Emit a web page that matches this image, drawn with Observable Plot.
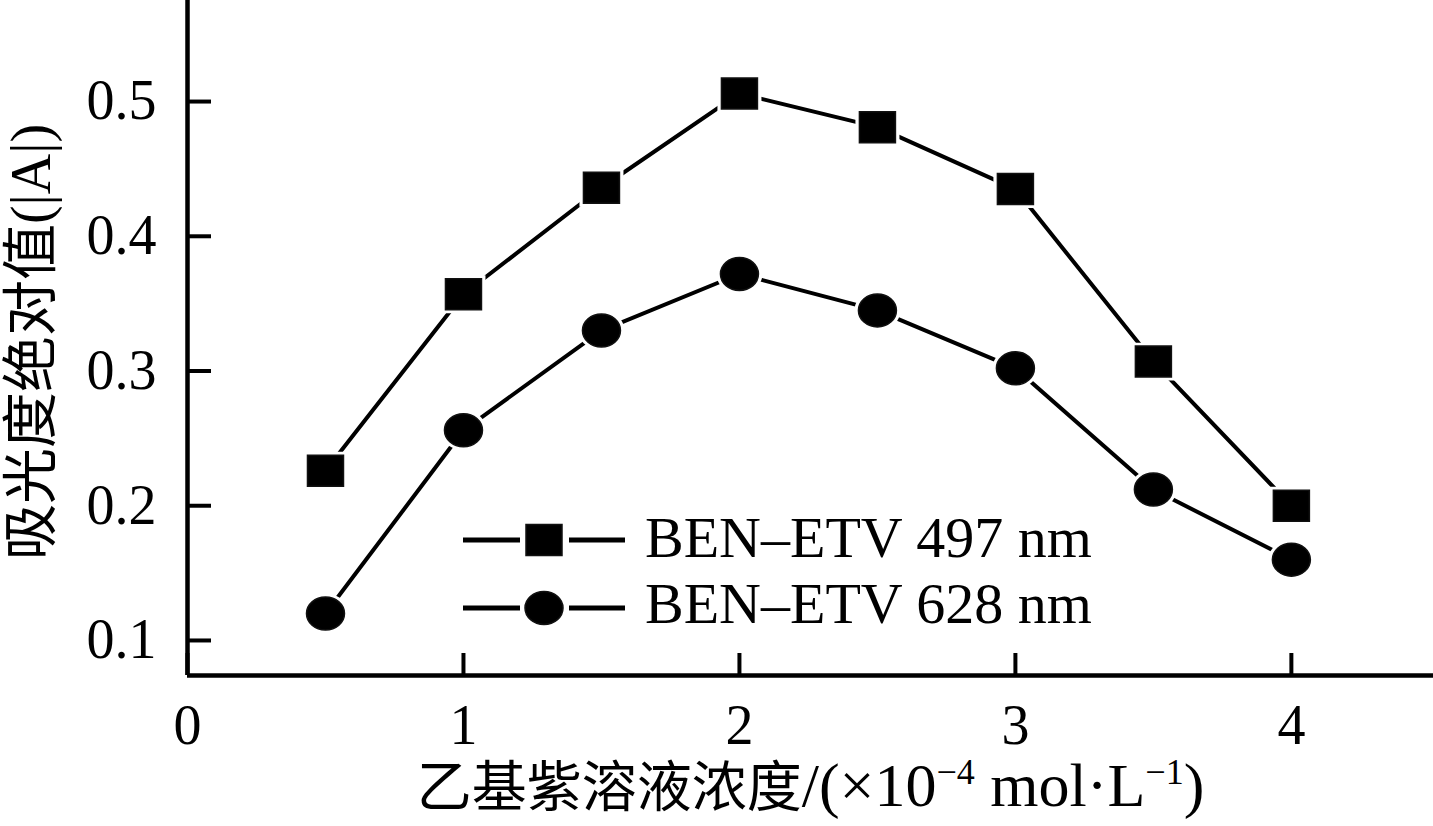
<!DOCTYPE html>
<html>
<head>
<meta charset="utf-8">
<script src="https://cdn.jsdelivr.net/npm/d3@7"></script>
<script src="https://cdn.jsdelivr.net/npm/@observablehq/plot@0.6"></script>
<style>
  html, body { margin: 0; padding: 0; background: #fff; }
  #wrap { position: relative; width: 1433px; height: 826px; }
  #legend { position: absolute; left: 0; top: 0; pointer-events: none; }
</style>
</head>
<body>
<div id="wrap"></div>
<script>
// ---- data ----
const concentrations = [0.5, 1, 1.5, 2, 2.5, 3, 3.5, 4];
const abs497 = [0.226, 0.357, 0.436, 0.506, 0.481, 0.435, 0.307, 0.200];
const abs628 = [0.120, 0.256, 0.330, 0.372, 0.345, 0.302, 0.212, 0.160];
const seriesNames = ["BEN\u2013ETV 497 nm", "BEN\u2013ETV 628 nm"];
const xTicks = [0, 1, 2, 3, 4];
const yTicks = [0.1, 0.2, 0.3, 0.4, 0.5];
const xLabel = "乙基紫溶液浓度/(×10−4 mol·L−1)";
const yLabel = "吸光度绝对值(|A|)";

const rows = [
  ...concentrations.map((c, i) => ({x: c, y: abs497[i], s: seriesNames[0]})),
  ...concentrations.map((c, i) => ({x: c, y: abs628[i], s: seriesNames[1]}))
];

// custom marker shapes (slightly wide, like the original)
const rectSym = {
  draw(ctx, size) {
    const r = Math.sqrt(size / Math.PI);
    const w = r, h = r * 31 / 36;
    ctx.moveTo(-w, -h); ctx.lineTo(w, -h); ctx.lineTo(w, h); ctx.lineTo(-w, h); ctx.closePath();
  }
};
const ellSym = {
  draw(ctx, size) {
    const r = Math.sqrt(size / Math.PI);
    const a = r, b = r * 33 / 38, k = 0.5523;
    ctx.moveTo(a, 0);
    ctx.bezierCurveTo(a, k * b, k * a, b, 0, b);
    ctx.bezierCurveTo(-k * a, b, -a, k * b, -a, 0);
    ctx.bezierCurveTo(-a, -k * b, -k * a, -b, 0, -b);
    ctx.bezierCurveTo(k * a, -b, a, -k * b, a, 0);
    ctx.closePath();
  }
};
const symFor = s => s === seriesNames[0] ? rectSym : ellSym;
const rFor = s => s === seriesNames[0] ? 18 : 19;

const font = "'Liberation Serif', 'Times New Roman', 'Noto Sans CJK SC', serif";
const yDomain = [0.074, 0.575];

const chart = Plot.plot({
  width: 1433,
  height: 826,
  marginLeft: 187,
  marginRight: 0,
  marginTop: 0,
  marginBottom: 151,
  style: {fontFamily: font, fontSize: "56px", color: "#000", background: "#fff"},
  x: {domain: [0, 4.515]},
  y: {domain: yDomain},
  marks: [
    Plot.line(rows, {x: "x", y: "y", z: "s", stroke: "#000", strokeWidth: 4}),
    // white halos create the small gap between lines and markers
    ...seriesNames.map(s => Plot.dot(rows.filter(d => d.s === s), {x: "x", y: "y", r: rFor(s) + 4, symbol: symFor(s), fill: "#fff", stroke: "none"})),
    ...seriesNames.map(s => Plot.dot(rows.filter(d => d.s === s), {x: "x", y: "y", r: rFor(s), symbol: symFor(s), fill: "#000", stroke: "#111", strokeWidth: 1.5})),
    Plot.ruleX([0], {stroke: "#000", strokeWidth: 4.5}),
    Plot.ruleY([yDomain[0]], {stroke: "#000", strokeWidth: 4.5}),
    Plot.axisY({ticks: yTicks, tickSize: -24, text: null, label: null, stroke: "#000", strokeWidth: 4}),
    Plot.axisY({ticks: yTicks, tickSize: 0, tickPadding: 31, tickFormat: d3.format(".1f"), label: null, fontSize: 56, fill: "#000"}),
    Plot.axisX({ticks: xTicks, tickSize: -22, text: null, label: null, stroke: "#000", strokeWidth: 4}),
    Plot.axisX({ticks: xTicks, tickSize: 0, tickPadding: 29, tickFormat: d3.format("d"), label: null, fontSize: 56, fill: "#000"}),
    Plot.text([xLabel], {frameAnchor: "bottom", dy: 130, fontSize: 55, fill: "#000", textAnchor: "middle", text: d => d}),
    Plot.text([yLabel], {frameAnchor: "left", dx: -155, dy: 4, rotate: -90, textAnchor: "middle", fontSize: 56, fill: "#000", text: d => d})
  ]
});

document.getElementById("wrap").appendChild(chart);

// superscripts in the x title
d3.select(chart).selectAll("text").each(function() {
  const t = this.textContent;
  if (t === xLabel) {
    const el = d3.select(this);
    el.text(null);
    el.append("tspan").text("乙基紫溶液浓度");
    el.append("tspan").attr("font-size", "62px").text("/(×10");
    el.append("tspan").attr("dy", "-22").attr("font-size", "36px").text("−4");
    el.append("tspan").attr("dy", "22").attr("font-size", "62px").text(" mol·L");
    el.append("tspan").attr("dy", "-22").attr("font-size", "36px").text("−1");
    el.append("tspan").attr("dy", "22").attr("font-size", "62px").text(")");
  }
});

// legend
const legendRows = [
  {name: seriesNames[0], sym: rectSym, r: 18, cy: 540, base: 557},
  {name: seriesNames[1], sym: ellSym, r: 19, cy: 608, base: 623}
];
const lg = d3.select("#wrap").append("svg")
  .attr("id", "legend").attr("width", 1433).attr("height", 826);
legendRows.forEach(row => {
  lg.append("line").attr("x1", 463).attr("x2", 520).attr("y1", row.cy).attr("y2", row.cy)
    .attr("stroke", "#000").attr("stroke-width", 5);
  lg.append("line").attr("x1", 569).attr("x2", 625).attr("y1", row.cy).attr("y2", row.cy)
    .attr("stroke", "#000").attr("stroke-width", 5);
  lg.append("path").attr("transform", `translate(544,${row.cy})`)
    .attr("d", d3.symbol(row.sym, row.r * row.r * Math.PI)())
    .attr("fill", "#000").attr("stroke", "#111").attr("stroke-width", 1.5);
  lg.append("text").attr("x", 645).attr("y", row.base)
    .attr("font-family", font).attr("font-size", 58).attr("fill", "#000").text(row.name);
});
</script>
</body>
</html>
